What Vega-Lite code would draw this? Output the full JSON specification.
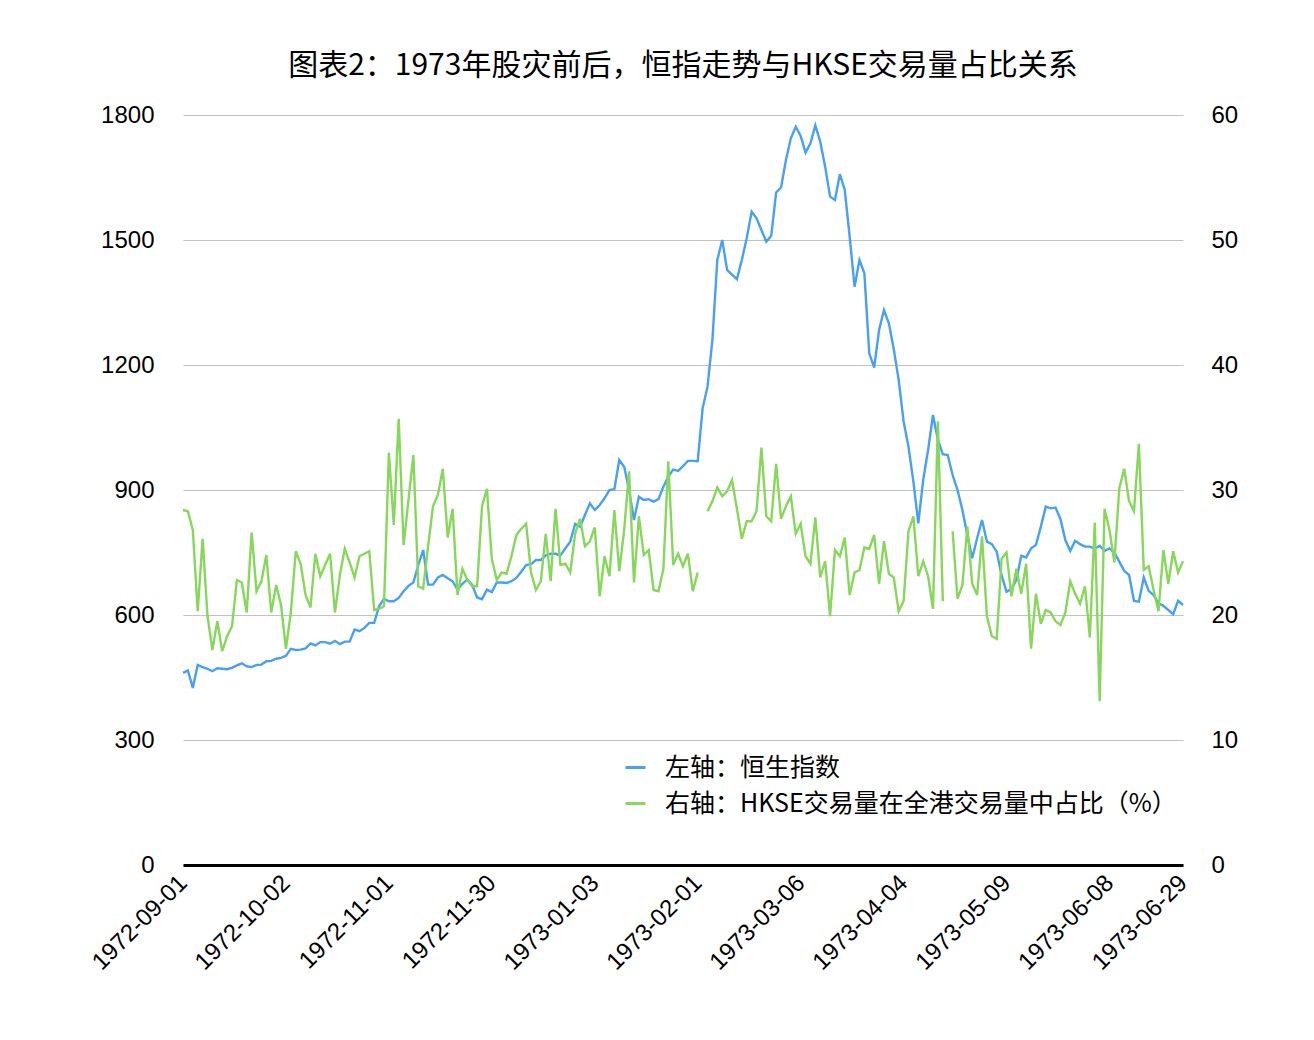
{
  "$schema": "https://vega.github.io/schema/vega-lite/v6.json",
  "width": 1000,
  "height": 750,
  "autosize": {"type": "none"},
  "padding": {"left": 183, "top": 115, "right": 131, "bottom": 175},
  "background": "white",
  "title": {
    "text": "图表2：1973年股灾前后，恒指走势与HKSE交易量占比关系",
    "font": "Noto Sans CJK SC",
    "fontSize": 30,
    "fontWeight": "normal",
    "color": "#000000",
    "anchor": "middle",
    "offset": 22
  },
  "config": {
    "view": {"stroke": null},
    "axis": {
      "labelFont": "Liberation Sans",
      "labelFontSize": 24,
      "labelColor": "#000000",
      "ticks": false,
      "tickSize": 0,
      "title": null,
      "gridColor": "#c2c2c2",
      "gridWidth": 1.2
    }
  },
  "data": {
    "values": [
      {"date": "1972-09-01", "hsi": 461, "pct": 28.4},
      {"date": "1972-09-04", "hsi": 467, "pct": 28.3},
      {"date": "1972-09-05", "hsi": 425, "pct": 26.8},
      {"date": "1972-09-06", "hsi": 480, "pct": 20.3},
      {"date": "1972-09-07", "hsi": 475, "pct": 26.1},
      {"date": "1972-09-08", "hsi": 471, "pct": 19.9},
      {"date": "1972-09-11", "hsi": 465, "pct": 17.2},
      {"date": "1972-09-12", "hsi": 472, "pct": 19.5},
      {"date": "1972-09-13", "hsi": 471, "pct": 17.1},
      {"date": "1972-09-14", "hsi": 470, "pct": 18.3},
      {"date": "1972-09-15", "hsi": 473, "pct": 19.1},
      {"date": "1972-09-18", "hsi": 479, "pct": 22.8},
      {"date": "1972-09-19", "hsi": 484, "pct": 22.6},
      {"date": "1972-09-20", "hsi": 477, "pct": 20.2},
      {"date": "1972-09-21", "hsi": 475, "pct": 26.6},
      {"date": "1972-09-22", "hsi": 480, "pct": 21.9},
      {"date": "1972-09-25", "hsi": 481, "pct": 22.7},
      {"date": "1972-09-26", "hsi": 489, "pct": 24.8},
      {"date": "1972-09-27", "hsi": 490, "pct": 20.2},
      {"date": "1972-09-28", "hsi": 495, "pct": 22.4},
      {"date": "1972-09-29", "hsi": 497, "pct": 20.8},
      {"date": "1972-10-02", "hsi": 502, "pct": 17.3},
      {"date": "1972-10-03", "hsi": 519, "pct": 20.2},
      {"date": "1972-10-04", "hsi": 516, "pct": 25.1},
      {"date": "1972-10-05", "hsi": 517, "pct": 24.1},
      {"date": "1972-10-06", "hsi": 520, "pct": 21.6},
      {"date": "1972-10-09", "hsi": 532, "pct": 20.6},
      {"date": "1972-10-10", "hsi": 527, "pct": 24.9},
      {"date": "1972-10-11", "hsi": 535, "pct": 23.1},
      {"date": "1972-10-12", "hsi": 535, "pct": 24.0},
      {"date": "1972-10-13", "hsi": 531, "pct": 24.9},
      {"date": "1972-10-17", "hsi": 538, "pct": 20.2},
      {"date": "1972-10-18", "hsi": 530, "pct": 23.2},
      {"date": "1972-10-19", "hsi": 536, "pct": 25.3},
      {"date": "1972-10-20", "hsi": 536, "pct": 24.2},
      {"date": "1972-10-23", "hsi": 565, "pct": 23.0},
      {"date": "1972-10-24", "hsi": 561, "pct": 24.7},
      {"date": "1972-10-25", "hsi": 569, "pct": 24.9},
      {"date": "1972-10-26", "hsi": 581, "pct": 25.1},
      {"date": "1972-10-27", "hsi": 581, "pct": 20.4},
      {"date": "1972-10-30", "hsi": 621, "pct": 20.5},
      {"date": "1972-10-31", "hsi": 639, "pct": 20.7},
      {"date": "1972-11-01", "hsi": 633, "pct": 33.0},
      {"date": "1972-11-02", "hsi": 633, "pct": 27.2},
      {"date": "1972-11-03", "hsi": 641, "pct": 35.7},
      {"date": "1972-11-06", "hsi": 657, "pct": 25.6},
      {"date": "1972-11-07", "hsi": 670, "pct": 29.2},
      {"date": "1972-11-08", "hsi": 678, "pct": 32.8},
      {"date": "1972-11-09", "hsi": 720, "pct": 22.3},
      {"date": "1972-11-10", "hsi": 756, "pct": 22.1},
      {"date": "1972-11-13", "hsi": 673, "pct": 25.5},
      {"date": "1972-11-14", "hsi": 673, "pct": 28.7},
      {"date": "1972-11-15", "hsi": 690, "pct": 29.6},
      {"date": "1972-11-16", "hsi": 696, "pct": 31.7},
      {"date": "1972-11-17", "hsi": 688, "pct": 26.2},
      {"date": "1972-11-20", "hsi": 681, "pct": 28.5},
      {"date": "1972-11-21", "hsi": 661, "pct": 21.6},
      {"date": "1972-11-22", "hsi": 675, "pct": 23.7},
      {"date": "1972-11-23", "hsi": 685, "pct": 22.8},
      {"date": "1972-11-24", "hsi": 672, "pct": 22.3},
      {"date": "1972-11-27", "hsi": 642, "pct": 22.3},
      {"date": "1972-11-28", "hsi": 638, "pct": 28.7},
      {"date": "1972-11-29", "hsi": 661, "pct": 30.1},
      {"date": "1972-11-30", "hsi": 655, "pct": 24.5},
      {"date": "1972-12-01", "hsi": 678, "pct": 22.8},
      {"date": "1972-12-04", "hsi": 678, "pct": 23.4},
      {"date": "1972-12-05", "hsi": 677, "pct": 23.3},
      {"date": "1972-12-06", "hsi": 681, "pct": 24.7},
      {"date": "1972-12-07", "hsi": 689, "pct": 26.4},
      {"date": "1972-12-08", "hsi": 704, "pct": 26.9},
      {"date": "1972-12-11", "hsi": 720, "pct": 27.3},
      {"date": "1972-12-12", "hsi": 722, "pct": 23.4},
      {"date": "1972-12-13", "hsi": 732, "pct": 22.0},
      {"date": "1972-12-14", "hsi": 732, "pct": 22.7},
      {"date": "1972-12-15", "hsi": 743, "pct": 26.5},
      {"date": "1972-12-18", "hsi": 747, "pct": 22.7},
      {"date": "1972-12-19", "hsi": 747, "pct": 28.5},
      {"date": "1972-12-20", "hsi": 743, "pct": 24.0},
      {"date": "1972-12-21", "hsi": 760, "pct": 24.1},
      {"date": "1972-12-22", "hsi": 776, "pct": 23.4},
      {"date": "1972-12-27", "hsi": 819, "pct": 26.5},
      {"date": "1972-12-28", "hsi": 812, "pct": 27.7},
      {"date": "1972-12-29", "hsi": 840, "pct": 25.5},
      {"date": "1973-01-02", "hsi": 868, "pct": 25.9},
      {"date": "1973-01-03", "hsi": 852, "pct": 27.0},
      {"date": "1973-01-04", "hsi": 864, "pct": 21.5},
      {"date": "1973-01-05", "hsi": 880, "pct": 24.7},
      {"date": "1973-01-08", "hsi": 900, "pct": 23.1},
      {"date": "1973-01-09", "hsi": 902, "pct": 28.4},
      {"date": "1973-01-10", "hsi": 972, "pct": 23.5},
      {"date": "1973-01-11", "hsi": 956, "pct": 26.8},
      {"date": "1973-01-12", "hsi": 900, "pct": 31.5},
      {"date": "1973-01-15", "hsi": 828, "pct": 22.6},
      {"date": "1973-01-16", "hsi": 884, "pct": 27.9},
      {"date": "1973-01-17", "hsi": 876, "pct": 24.8},
      {"date": "1973-01-18", "hsi": 878, "pct": 25.2},
      {"date": "1973-01-19", "hsi": 872, "pct": 22.0},
      {"date": "1973-01-22", "hsi": 878, "pct": 21.9},
      {"date": "1973-01-23", "hsi": 908, "pct": 23.7},
      {"date": "1973-01-24", "hsi": 932, "pct": 32.3},
      {"date": "1973-01-25", "hsi": 949, "pct": 24.0},
      {"date": "1973-01-26", "hsi": 946, "pct": 24.9},
      {"date": "1973-01-29", "hsi": 957, "pct": 23.9},
      {"date": "1973-01-30", "hsi": 970, "pct": 24.9},
      {"date": "1973-01-31", "hsi": 970, "pct": 21.9},
      {"date": "1973-02-01", "hsi": 969, "pct": 23.4},
      {"date": "1973-02-02", "hsi": 1096, "pct": null},
      {"date": "1973-02-07", "hsi": 1148, "pct": 28.3},
      {"date": "1973-02-08", "hsi": 1260, "pct": 29.1},
      {"date": "1973-02-09", "hsi": 1452, "pct": 30.2},
      {"date": "1973-02-12", "hsi": 1500, "pct": 29.5},
      {"date": "1973-02-13", "hsi": 1428, "pct": 29.9},
      {"date": "1973-02-14", "hsi": 1417, "pct": 30.8},
      {"date": "1973-02-15", "hsi": 1406, "pct": 28.5},
      {"date": "1973-02-16", "hsi": 1452, "pct": 26.1},
      {"date": "1973-02-19", "hsi": 1504, "pct": 27.5},
      {"date": "1973-02-20", "hsi": 1568, "pct": 27.5},
      {"date": "1973-02-21", "hsi": 1552, "pct": 28.3},
      {"date": "1973-02-22", "hsi": 1524, "pct": 33.4},
      {"date": "1973-02-23", "hsi": 1496, "pct": 27.9},
      {"date": "1973-02-26", "hsi": 1510, "pct": 27.5},
      {"date": "1973-02-27", "hsi": 1614, "pct": 32.1},
      {"date": "1973-02-28", "hsi": 1626, "pct": 27.7},
      {"date": "1973-03-01", "hsi": 1692, "pct": 28.7},
      {"date": "1973-03-02", "hsi": 1744, "pct": 29.5},
      {"date": "1973-03-05", "hsi": 1772, "pct": 26.5},
      {"date": "1973-03-06", "hsi": 1750, "pct": 27.3},
      {"date": "1973-03-07", "hsi": 1710, "pct": 24.7},
      {"date": "1973-03-08", "hsi": 1732, "pct": 24.1},
      {"date": "1973-03-09", "hsi": 1775, "pct": 27.8},
      {"date": "1973-03-12", "hsi": 1736, "pct": 23.0},
      {"date": "1973-03-13", "hsi": 1676, "pct": 24.3},
      {"date": "1973-03-14", "hsi": 1604, "pct": 19.9},
      {"date": "1973-03-15", "hsi": 1596, "pct": 25.2},
      {"date": "1973-03-16", "hsi": 1658, "pct": 24.7},
      {"date": "1973-03-19", "hsi": 1620, "pct": 26.2},
      {"date": "1973-03-20", "hsi": 1508, "pct": 21.6},
      {"date": "1973-03-21", "hsi": 1388, "pct": 23.4},
      {"date": "1973-03-22", "hsi": 1452, "pct": 23.6},
      {"date": "1973-03-23", "hsi": 1420, "pct": 25.4},
      {"date": "1973-03-26", "hsi": 1228, "pct": 25.3},
      {"date": "1973-03-27", "hsi": 1194, "pct": 26.4},
      {"date": "1973-03-28", "hsi": 1284, "pct": 22.5},
      {"date": "1973-03-29", "hsi": 1332, "pct": 25.9},
      {"date": "1973-03-30", "hsi": 1300, "pct": 23.3},
      {"date": "1973-04-02", "hsi": 1238, "pct": 23.0},
      {"date": "1973-04-03", "hsi": 1164, "pct": 20.3},
      {"date": "1973-04-04", "hsi": 1065, "pct": 21.1},
      {"date": "1973-04-06", "hsi": 1004, "pct": 26.7},
      {"date": "1973-04-09", "hsi": 920, "pct": 27.9},
      {"date": "1973-04-10", "hsi": 820, "pct": 23.1},
      {"date": "1973-04-11", "hsi": 924, "pct": 24.3},
      {"date": "1973-04-12", "hsi": 996, "pct": 23.1},
      {"date": "1973-04-13", "hsi": 1080, "pct": 20.5},
      {"date": "1973-04-16", "hsi": 1020, "pct": 35.5},
      {"date": "1973-04-17", "hsi": 986, "pct": 21.1},
      {"date": "1973-04-18", "hsi": 984, "pct": null},
      {"date": "1973-04-19", "hsi": 936, "pct": 26.7},
      {"date": "1973-04-25", "hsi": 900, "pct": 21.3},
      {"date": "1973-04-26", "hsi": 852, "pct": 22.4},
      {"date": "1973-04-27", "hsi": 792, "pct": 27.1},
      {"date": "1973-04-30", "hsi": 736, "pct": 22.5},
      {"date": "1973-05-01", "hsi": 784, "pct": 21.6},
      {"date": "1973-05-02", "hsi": 828, "pct": 26.3},
      {"date": "1973-05-03", "hsi": 776, "pct": 19.9},
      {"date": "1973-05-04", "hsi": 770, "pct": 18.3},
      {"date": "1973-05-07", "hsi": 752, "pct": 18.1},
      {"date": "1973-05-08", "hsi": 695, "pct": 24.5},
      {"date": "1973-05-09", "hsi": 656, "pct": 25.0},
      {"date": "1973-05-10", "hsi": 662, "pct": 21.5},
      {"date": "1973-05-11", "hsi": 684, "pct": 23.7},
      {"date": "1973-05-14", "hsi": 742, "pct": 21.7},
      {"date": "1973-05-15", "hsi": 738, "pct": 24.1},
      {"date": "1973-05-16", "hsi": 760, "pct": 17.3},
      {"date": "1973-05-17", "hsi": 768, "pct": 21.7},
      {"date": "1973-05-18", "hsi": 812, "pct": 19.3},
      {"date": "1973-05-21", "hsi": 860, "pct": 20.4},
      {"date": "1973-05-22", "hsi": 856, "pct": 20.2},
      {"date": "1973-05-23", "hsi": 858, "pct": 19.5},
      {"date": "1973-05-24", "hsi": 830, "pct": 19.2},
      {"date": "1973-05-25", "hsi": 780, "pct": 20.2},
      {"date": "1973-05-28", "hsi": 754, "pct": 22.7},
      {"date": "1973-05-29", "hsi": 778, "pct": 21.7},
      {"date": "1973-05-30", "hsi": 770, "pct": 20.9},
      {"date": "1973-05-31", "hsi": 764, "pct": 22.3},
      {"date": "1973-06-01", "hsi": 764, "pct": 18.2},
      {"date": "1973-06-04", "hsi": 759, "pct": 27.4},
      {"date": "1973-06-06", "hsi": 766, "pct": 13.1},
      {"date": "1973-06-07", "hsi": 754, "pct": 28.5},
      {"date": "1973-06-08", "hsi": 760, "pct": 26.8},
      {"date": "1973-06-11", "hsi": 750, "pct": 24.2},
      {"date": "1973-06-12", "hsi": 728, "pct": 30.1},
      {"date": "1973-06-13", "hsi": 706, "pct": 31.7},
      {"date": "1973-06-14", "hsi": 696, "pct": 29.1},
      {"date": "1973-06-15", "hsi": 634, "pct": 28.3},
      {"date": "1973-06-18", "hsi": 632, "pct": 33.7},
      {"date": "1973-06-19", "hsi": 690, "pct": 23.6},
      {"date": "1973-06-20", "hsi": 658, "pct": 23.9},
      {"date": "1973-06-21", "hsi": 648, "pct": 22.0},
      {"date": "1973-06-22", "hsi": 628, "pct": 20.3},
      {"date": "1973-06-25", "hsi": 622, "pct": 25.2},
      {"date": "1973-06-26", "hsi": 612, "pct": 22.5},
      {"date": "1973-06-27", "hsi": 602, "pct": 25.1},
      {"date": "1973-06-28", "hsi": 634, "pct": 23.4},
      {"date": "1973-06-29", "hsi": 624, "pct": 24.3}
    ]
  },
  "encoding": {
    "x": {
      "field": "date",
      "type": "ordinal",
      "scale": {"type": "point", "padding": 0},
      "axis": {
        "labelExpr": "indexof(['1972-09-01', '1972-10-02', '1972-11-01', '1972-11-30', '1973-01-03', '1973-02-01', '1973-03-06', '1973-04-04', '1973-05-09', '1973-06-08', '1973-06-29'], datum.value) >= 0 ? datum.value : ''",
        "labelAngle": -45,
        "labelAlign": "right",
        "labelBaseline": "middle",
        "labelPadding": 14,
        "labelOverlap": false,
        "labelBound": false,
        "labelFlush": false,
        "grid": false,
        "domain": true,
        "domainColor": "#000000",
        "domainWidth": 3
      }
    }
  },
  "layer": [
    {
      "mark": {"type": "line", "strokeWidth": 2.4},
      "encoding": {
        "y": {
          "field": "hsi",
          "type": "quantitative",
          "scale": {"domain": [0, 1800], "nice": false},
          "axis": {
            "orient": "left",
            "values": [0, 300, 600, 900, 1200, 1500, 1800],
            "format": "d",
            "grid": true,
            "domain": false,
            "labelPadding": 29
          }
        },
        "color": {
          "datum": "左轴：恒生指数",
          "scale": {
            "domain": ["左轴：恒生指数", "右轴：HKSE交易量在全港交易量中占比（%）"],
            "range": ["#48a0f5", "#86d75a"]
          },
          "legend": {
            "title": null,
            "orient": "none",
            "legendX": 440,
            "legendY": 640,
            "symbolType": "stroke",
            "symbolSize": 400,
            "symbolStrokeWidth": 3,
            "labelFont": "Noto Sans CJK SC",
            "labelFontSize": 25,
            "labelColor": "#000000",
            "labelLimit": 800,
            "labelOffset": 17,
            "rowPadding": 10
          }
        }
      }
    },
    {
      "mark": {"type": "line", "strokeWidth": 2.4},
      "encoding": {
        "y": {
          "field": "pct",
          "type": "quantitative",
          "scale": {"domain": [0, 60], "nice": false},
          "axis": {
            "orient": "right",
            "values": [0, 10, 20, 30, 40, 50, 60],
            "grid": false,
            "domain": false,
            "labelPadding": 28
          }
        },
        "color": {"datum": "右轴：HKSE交易量在全港交易量中占比（%）"}
      }
    }
  ],
  "resolve": {"scale": {"y": "independent"}}
}
